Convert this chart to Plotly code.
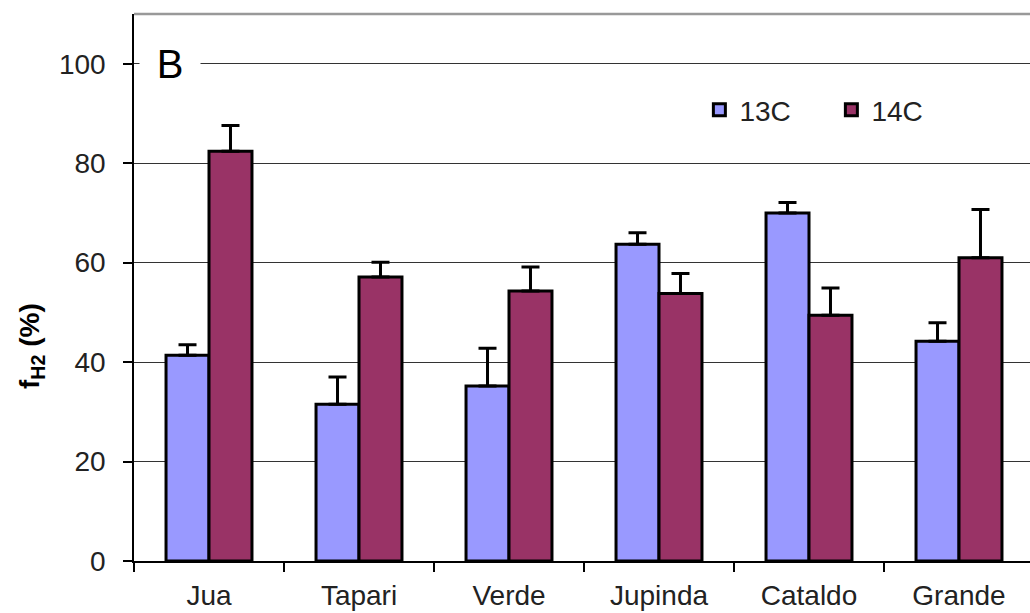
import plotly.graph_objects as go

categories = ["Jua", "Tapari", "Verde", "Jupinda", "Cataldo", "Grande"]
c13_values = [41.4, 31.5, 35.2, 63.7, 70.0, 44.2]
c13_err = [2.1, 5.5, 7.6, 2.3, 2.1, 3.7]
c14_values = [82.4, 57.1, 54.3, 53.8, 49.4, 61.0]
c14_err = [5.2, 3.0, 4.8, 4.0, 5.5, 9.7]
y_ticks = [0, 20, 40, 60, 80, 100]

FONT = "Liberation Sans, Arial, sans-serif"
W, H = 1030, 613
ML, MT, MB = 134, 14, 52

fig = go.Figure()
fig.add_trace(go.Bar(
    name="13C", x=categories, y=c13_values,
    marker=dict(color="#9999FF", line=dict(color="black", width=3)),
    error_y=dict(type="data", symmetric=False, array=c13_err,
                 arrayminus=[0] * len(c13_err), color="black", thickness=3, width=9),
))
fig.add_trace(go.Bar(
    name="14C", x=categories, y=c14_values,
    marker=dict(color="#993366", line=dict(color="black", width=3)),
    error_y=dict(type="data", symmetric=False, array=c14_err,
                 arrayminus=[0] * len(c14_err), color="black", thickness=3, width=9),
))

cat_w = 150.0
x_end = -0.5 + (W - ML) / cat_w
plot_h = H - MT - MB

fig.update_layout(
    width=W, height=H,
    margin=dict(l=ML, r=0, t=MT, b=MB, pad=0, autoexpand=False),
    paper_bgcolor="white", plot_bgcolor="white",
    barmode="group", bargap=0.427, bargroupgap=0,
    font=dict(family=FONT, size=28, color="#222222"),
    showlegend=True,
    legend=dict(orientation="h", x=0.631, y=(H - MB - 110) / plot_h,
                xanchor="left", yanchor="middle",
                bgcolor="rgba(0,0,0,0)", font=dict(family=FONT, size=28, color="#222222"),
                entrywidth=87, entrywidthmode="pixels", traceorder="normal"),
    xaxis=dict(range=[-0.5, x_end], showline=True, linecolor="black", linewidth=1.5,
               ticks="outside", ticklen=9, tickwidth=1.5, tickcolor="black",
               tickson="boundaries", showgrid=False, zeroline=False,
               ticklabelstandoff=9,
               tickfont=dict(family=FONT, size=28, color="#222222")),
    yaxis=dict(range=[0, 110], tickvals=y_ticks, ticktext=[str(v) for v in y_ticks],
               showline=True, linecolor="black", linewidth=1.5,
               ticks="outside", ticklen=9, tickwidth=1.5, tickcolor="black",
               ticklabelstandoff=12,
               showgrid=True, gridcolor="#333333", gridwidth=1.3, zeroline=False,
               tickfont=dict(family=FONT, size=28, color="#222222")),
)

# top frame line
fig.add_shape(type="line", xref="paper", yref="paper", x0=0, x1=1, y0=1, y1=1,
              line=dict(color="#999999", width=2.5))

# panel label
fig.add_annotation(x=-0.26, y=100, xref="x", yref="y", text="B", showarrow=False,
                   font=dict(family=FONT, size=40, color="black"),
                   bgcolor="white", width=58, xanchor="center", yanchor="middle")

# y-axis title
fig.add_annotation(x=(31 - ML) / (W - ML), y=(H - MB - 346) / plot_h,
                   xref="paper", yref="paper", text="<b>f<sub>H2</sub> (%)</b>",
                   showarrow=False, textangle=-90,
                   font=dict(family=FONT, size=28, color="black"),
                   xanchor="center", yanchor="middle")

fig.write_html("out.html", config={"displayModeBar": False},
               post_script="document.body.style.margin='0';document.body.style.overflow='hidden';")
